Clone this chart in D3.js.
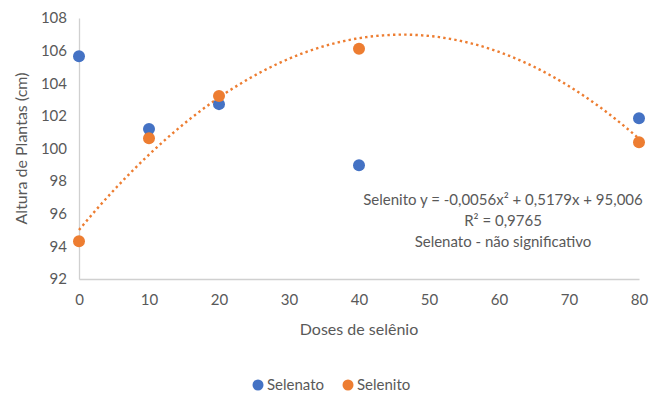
<!DOCTYPE html>
<html>
<head>
<meta charset="utf-8">
<script src="https://cdn.jsdelivr.net/npm/d3@7"></script>
<style>
  body { margin: 0; background: #fff; }
  text { font-family: Lato, "Open Sans", sans-serif; fill: #595959; }
</style>
</head>
<body>
<div id="chart"></div>
<script>
// data
var doses = [0, 10, 20, 40, 80];
var selenato = [105.65, 101.19, 102.72, 98.97, 101.85];
var selenito = [94.32, 100.63, 103.22, 106.12, 100.39];
var yTicks = [92, 94, 96, 98, 100, 102, 104, 106, 108];
var xTicks = [0, 10, 20, 30, 40, 50, 60, 70, 80];
// Selenito trendline coefficients: a*x^2 + b*x + c
var trendCoef = [-0.0056, 0.5179, 95.006];
var annotation = [
  "Selenito y = -0,0056x\u00B2 + 0,5179x + 95,006",
  "R\u00B2 = 0,9765",
  "Selenato - não significativo"
];

var w = 660, h = 394;
var blue = "#4472C4", orange = "#ED7D31";

var x = d3.scaleLinear().domain([0, 80]).range([79, 639]);
var y = d3.scaleLinear().domain([92, 108]).range([279, 18]);

var svg = d3.select("#chart").append("svg")
  .attr("width", w)
  .attr("height", h);

// y axis
var yAxis = svg.append("g")
  .attr("transform", "translate(" + x(0) + ",0)")
  .call(d3.axisLeft(y).tickValues(yTicks).tickSize(0).tickPadding(12));
yAxis.select(".domain").attr("stroke", "#d0d0d0").attr("stroke-width", 1.3);
yAxis.selectAll("text").style("font-size", "15px").attr("fill", "#595959");

// x axis
var xAxis = svg.append("g")
  .attr("transform", "translate(0," + y(92) + ")")
  .call(d3.axisBottom(x).tickValues(xTicks).tickSize(0).tickPadding(15));
xAxis.select(".domain").attr("stroke", "#d0d0d0").attr("stroke-width", 1.3);
xAxis.selectAll("text").style("font-size", "15px").attr("fill", "#595959");

// axis titles
svg.append("text")
  .attr("transform", "translate(27," + (y(100)) + ") rotate(-90)")
  .attr("text-anchor", "middle")
  .style("font-size", "16px")
  .text("Altura de Plantas (cm)");

svg.append("text")
  .attr("x", (x(0) + x(80)) / 2)
  .attr("y", 335)
  .attr("text-anchor", "middle")
  .style("font-size", "16px")
  .text("Doses de selênio");

// trendline
var trendX = d3.range(0, 80.5, 0.5);
var line = d3.line()
  .x(function(d) { return x(d); })
  .y(function(d) { return y(trendCoef[0] * d * d + trendCoef[1] * d + trendCoef[2]); });
svg.append("path")
  .datum(trendX)
  .attr("d", line)
  .attr("fill", "none")
  .attr("stroke", orange)
  .attr("stroke-width", 2.4)
  .attr("stroke-dasharray", "2.4,3.2");

// points
svg.append("g").selectAll("circle")
  .data(doses)
  .join("circle")
  .attr("cx", function(d) { return x(d); })
  .attr("cy", function(d, i) { return y(selenato[i]); })
  .attr("r", 6)
  .attr("fill", blue);

svg.append("g").selectAll("circle")
  .data(doses)
  .join("circle")
  .attr("cx", function(d) { return x(d); })
  .attr("cy", function(d, i) { return y(selenito[i]); })
  .attr("r", 6)
  .attr("fill", orange);

// annotation
svg.append("g").selectAll("text")
  .data(annotation)
  .join("text")
  .attr("x", 503)
  .attr("y", function(d, i) { return 205 + i * 21; })
  .attr("text-anchor", "middle")
  .style("font-size", "15px")
  .text(function(d) { return d; });

// legend
var legend = [{name: "Selenato", color: blue, x: 258}, {name: "Selenito", color: orange, x: 348}];
var lg = svg.append("g").selectAll("g")
  .data(legend)
  .join("g");
lg.append("circle")
  .attr("cx", function(d) { return d.x; })
  .attr("cy", 385)
  .attr("r", 5.5)
  .attr("fill", function(d) { return d.color; });
lg.append("text")
  .attr("x", function(d) { return d.x + 9; })
  .attr("y", 390)
  .style("font-size", "15px")
  .text(function(d) { return d.name; });
</script>
</body>
</html>
